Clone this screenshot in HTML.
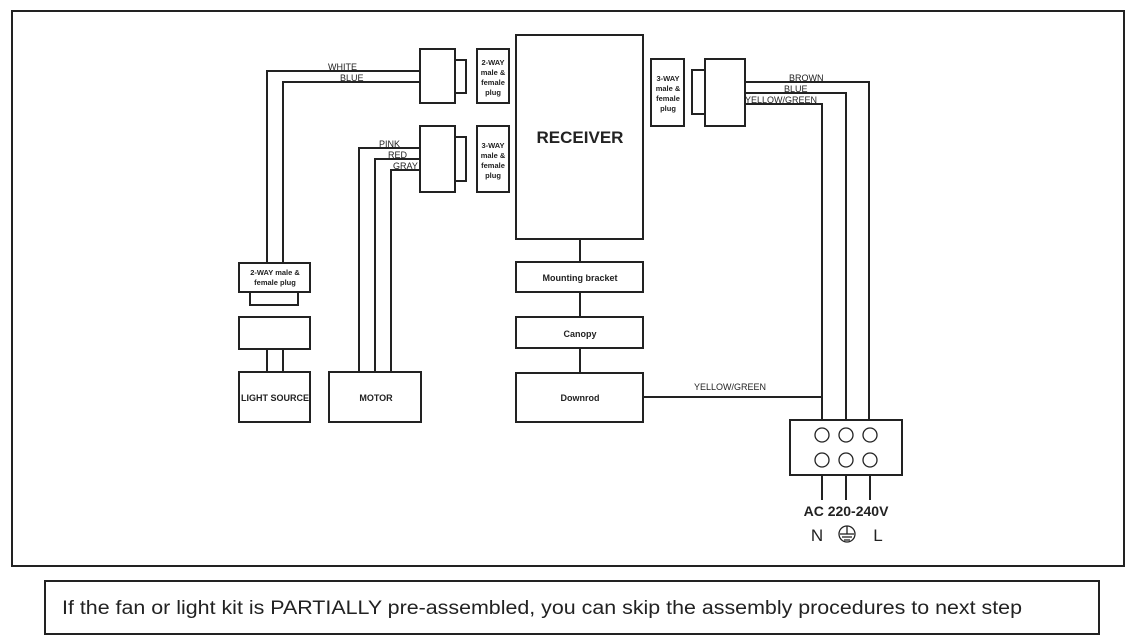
<!DOCTYPE html>
<html><head><meta charset="utf-8"><style>
html,body{margin:0;padding:0;background:#fff;}
svg{display:block;font-family:"Liberation Sans",sans-serif;}
.b{font-weight:bold;}
</style></head><body>
<svg width="1131" height="641" viewBox="0 0 1131 641" xmlns="http://www.w3.org/2000/svg">
<g fill="none" stroke="#222" stroke-width="2">
<rect x="12" y="11" width="1112" height="555"/>
<rect x="45" y="581" width="1054" height="53"/>
<!-- top-left connector -->
<rect x="420" y="49" width="35" height="54"/>
<rect x="455" y="60" width="11" height="33"/>
<rect x="477" y="49" width="32" height="54"/>
<polyline points="420,71 267,71 267,263"/>
<polyline points="420,82 283,82 283,263"/>
<!-- motor connector -->
<rect x="420" y="126" width="35" height="66"/>
<rect x="455" y="137" width="11" height="44"/>
<rect x="477" y="126" width="32" height="66"/>
<polyline points="420,148 359,148 359,372"/>
<polyline points="420,159 375,159 375,372"/>
<polyline points="420,170 391,170 391,372"/>
<!-- receiver -->
<rect x="516" y="35" width="127" height="204"/>
<line x1="580" y1="239" x2="580" y2="262"/>
<rect x="516" y="262" width="127" height="30"/>
<line x1="580" y1="292" x2="580" y2="317"/>
<rect x="516" y="317" width="127" height="31"/>
<line x1="580" y1="348" x2="580" y2="373"/>
<rect x="516" y="373" width="127" height="49"/>
<line x1="643" y1="397" x2="822" y2="397"/>
<!-- right connector -->
<rect x="651" y="59" width="33" height="67"/>
<rect x="692" y="70" width="13" height="44"/>
<rect x="705" y="59" width="40" height="67"/>
<polyline points="745,82 869,82 869,420"/>
<polyline points="745,93 846,93 846,420"/>
<polyline points="745,104 822,104 822,420"/>
<rect x="790" y="420" width="112" height="55"/>
<circle cx="822" cy="435" r="7" stroke-width="1.3"/>
<circle cx="846" cy="435" r="7" stroke-width="1.3"/>
<circle cx="870" cy="435" r="7" stroke-width="1.3"/>
<circle cx="822" cy="460" r="7" stroke-width="1.3"/>
<circle cx="846" cy="460" r="7" stroke-width="1.3"/>
<circle cx="870" cy="460" r="7" stroke-width="1.3"/>
<line x1="822" y1="475" x2="822" y2="500"/>
<line x1="846" y1="475" x2="846" y2="500"/>
<line x1="870" y1="475" x2="870" y2="500"/>
<!-- ground symbol -->
<circle cx="847" cy="534" r="8" stroke-width="1.3"/>
<line x1="847" y1="526" x2="847" y2="534" stroke-width="1.3"/>
<line x1="840" y1="534" x2="854" y2="534" stroke-width="1.3"/>
<line x1="842" y1="537" x2="852" y2="537" stroke-width="1.3"/>
<line x1="844" y1="540" x2="850" y2="540" stroke-width="1.3"/>
<!-- left bottom -->
<rect x="239" y="263" width="71" height="29"/>
<rect x="250" y="292" width="48" height="13"/>
<rect x="239" y="317" width="71" height="32"/>
<line x1="267" y1="349" x2="267" y2="372"/>
<line x1="283" y1="349" x2="283" y2="372"/>
<rect x="239" y="372" width="71" height="50"/>
<rect x="329" y="372" width="92" height="50"/>
</g>
<g fill="#222" font-size="9">
<text x="328" y="70">WHITE</text>
<text x="340" y="81">BLUE</text>
<text x="379" y="147">PINK</text>
<text x="388" y="158">RED</text>
<text x="393" y="169">GRAY</text>
<text x="789" y="81">BROWN</text>
<text x="784" y="92">BLUE</text>
<text x="745" y="103">YELLOW/GREEN</text>
<text x="694" y="390">YELLOW/GREEN</text>
</g>
<g fill="#222" font-size="7.5" class="b" text-anchor="middle">
<text x="493" y="65">2-WAY</text><text x="493" y="75">male &amp;</text><text x="493" y="85">female</text><text x="493" y="95">plug</text>
<text x="493" y="148">3-WAY</text><text x="493" y="158">male &amp;</text><text x="493" y="168">female</text><text x="493" y="178">plug</text>
<text x="668" y="81">3-WAY</text><text x="668" y="91">male &amp;</text><text x="668" y="101">female</text><text x="668" y="111">plug</text>
<text x="275" y="275">2-WAY male &amp;</text><text x="275" y="285">female plug</text>
</g>
<g fill="#222" font-size="9" class="b" text-anchor="middle">
<text x="580" y="281">Mounting bracket</text>
<text x="580" y="337">Canopy</text>
<text x="580" y="401">Downrod</text>
<text x="275" y="401">LIGHT SOURCE</text>
<text x="376" y="401">MOTOR</text>
</g>
<text x="580" y="143" font-size="17" class="b" text-anchor="middle" fill="#222">RECEIVER</text>
<text x="846" y="516" font-size="14" class="b" text-anchor="middle" fill="#222">AC 220-240V</text>
<text x="817" y="541" font-size="17" text-anchor="middle" fill="#222">N</text>
<text x="878" y="541" font-size="17" text-anchor="middle" fill="#222">L</text>
<text x="62" y="614" font-size="19" fill="#222" textLength="960" lengthAdjust="spacingAndGlyphs">If the fan or light kit is PARTIALLY pre-assembled, you can skip the assembly procedures to next step</text>
</svg>
</body></html>
